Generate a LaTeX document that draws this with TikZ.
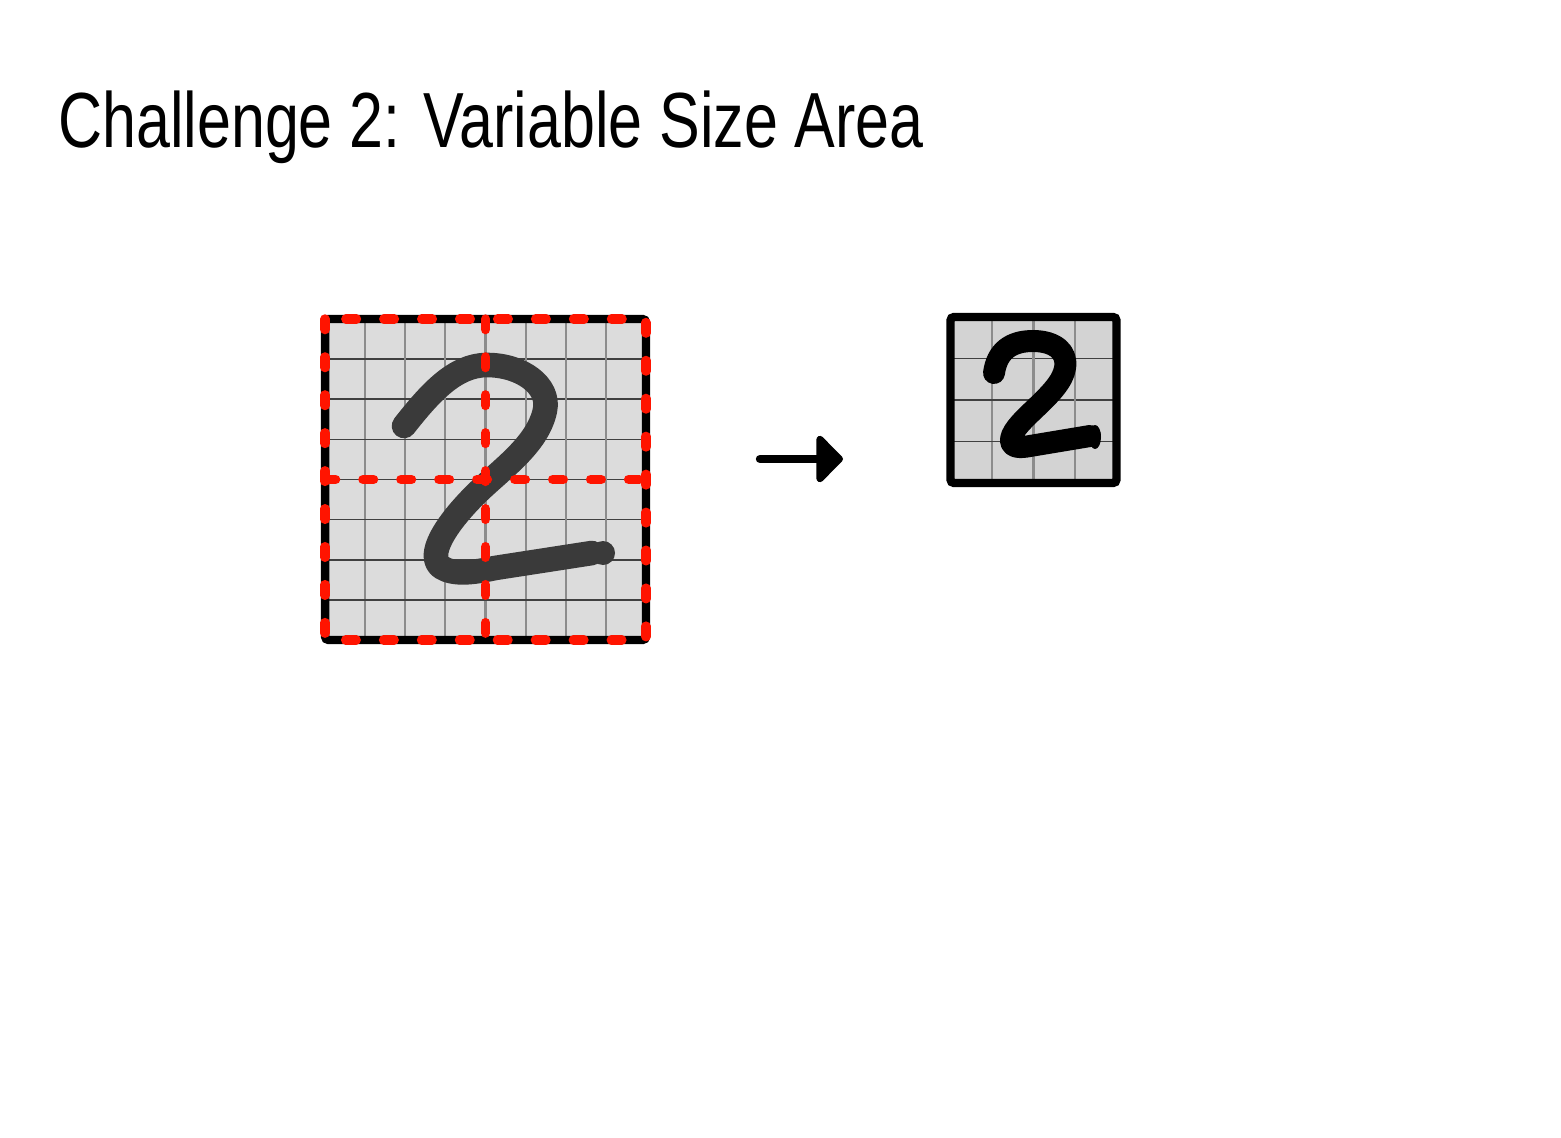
\documentclass[tikz,border=0pt]{standalone}
\usepackage{fontspec}
\usepackage{tikz}
\usetikzlibrary{
    arrows.meta,
    calc,
    positioning
}
\newfontfamily\titlefont[FakeStretch=0.78]{Liberation Sans}
\definecolor{cellfill}{RGB}{220,220,220}
\definecolor{smallfill}{RGB}{211,211,211}
\definecolor{ink}{RGB}{58,58,58}
\definecolor{guide}{RGB}{255,20,0}

\begin{document}
\begin{tikzpicture}[
    x=0.02cm, y=-0.02cm,
    bigbox/.style={fill=cellfill, minimum size=6.42cm, inner sep=0pt, outer sep=0pt},
    smallbox/.style={fill=smallfill, minimum size=3.32cm, inner sep=0pt, outer sep=0pt},
    vline/.style={draw=black!45, line width=1.2pt},
    hline/.style={draw=black!75, line width=0.9pt},
    edge/.style={draw=black, line width=4.8pt, rounded corners=2pt},
    guideline/.style={draw=guide, line width=5.4pt, line cap=round, dash pattern=on 6pt off 15.6pt},
    digit/.style={line width=14pt, line cap=round, line join=round},
    arrow/.style={-{Triangle[length=16pt, width=31pt, round]}, line width=4.8pt, line cap=round}
]
    % Canvas
    \useasboundingbox (0,0) rectangle (1561,1138);

    % Title
    \node[font=\titlefont\fontsize{44.5}{50}\selectfont, anchor=base west, inner sep=0pt] (title) at (58,148) {Challenge 2: Variable Size Area};

    % Left grid (8 x 8)
    \node[bigbox] (big) at (485.5,479.5) {};
    \foreach \i in {1,...,7} {
        \draw[vline] ($(big.north west)!\i/8!(big.north east)$) -- ($(big.south west)!\i/8!(big.south east)$);
        \draw[hline] ($(big.north west)!\i/8!(big.south west)$) -- ($(big.north east)!\i/8!(big.south east)$);
    }

    % Handwritten 2
    \draw[digit, ink] (404,426) .. controls (430,393) and (455,365) .. (487,365)
        .. controls (522,365) and (550,386) .. (545,410)
        .. controls (538,445) and (500,470) .. (475,495)
        .. controls (446,524) and (426,555) .. (441,567)
        .. controls (453,575) and (472,573) .. (495,568) -- (592,553);
    \fill[ink] (603,553) circle (12);

    \draw[edge] (big.north west) rectangle (big.south east);

    % Red guides
    \draw[guideline] (big.north west) rectangle (big.south east);
    \draw[guideline] (big.north) -- (big.south);
    \draw[guideline] (big.west) -- (big.east);

    % Arrow
    \coordinate (arrowstart) at (760,459);
    \coordinate (arrowend) at (843,459);
    \draw[arrow] (arrowstart) -- (arrowend);

    % Right grid (4 x 4)
    \node[smallbox] (small) at (1033.5,400) {};
    \foreach \i in {1,...,3} {
        \draw[vline] ($(small.north west)!\i/4!(small.north east)$) -- ($(small.south west)!\i/4!(small.south east)$);
        \draw[hline] ($(small.north west)!\i/4!(small.south west)$) -- ($(small.north east)!\i/4!(small.south east)$);
    }

    % Downsampled 2
    \draw[digit, line width=12.5pt, black] (994,373) .. controls (997,351) and (1011,341) .. (1033,341)
        .. controls (1055,341) and (1068,352) .. (1065,368)
        .. controls (1061,394) and (1014,420) .. (1011,439)
        .. controls (1010,448) and (1020,448) .. (1030,446) -- (1090,436);
    \fill[black] (1095,437) ellipse (6 and 12);

    \draw[edge] (small.north west) rectangle (small.south east);
\end{tikzpicture}
\end{document}
